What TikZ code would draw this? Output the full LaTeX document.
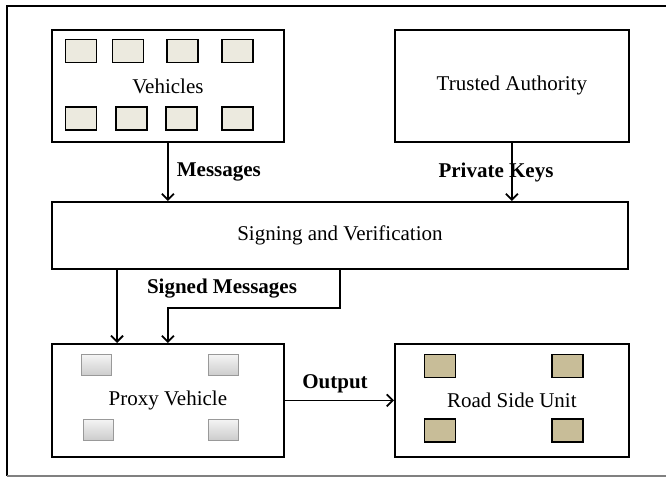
\documentclass[tikz,border=0pt]{standalone}
\usepackage{fontspec}
\setmainfont{Liberation Serif}
\usetikzlibrary{arrows.meta}
\definecolor{vehfill}{RGB}{236,234,223}
\definecolor{rsufill}{RGB}{200,189,152}

\begin{document}
\begin{tikzpicture}[-{Straight Barb[length=6pt,width=12pt]},x=1pt,y=-1pt,line width=1.8pt]

			\tikzstyle{every node}=[font=\fontsize{21}{25}\selectfont]
			\tikzstyle{box}=[draw,rectangle,anchor=north west,inner sep=0pt]
			\tikzstyle{vcell}=[draw,fill=vehfill,minimum width=31pt,minimum height=23pt]
			\tikzstyle{pcell}=[draw=gray!80,top color=gray!8,bottom color=gray!40,line width=1pt,minimum width=30pt,minimum height=21pt]
			\tikzstyle{rcell}=[draw,fill=rsufill,minimum width=31pt,minimum height=23pt]
			\tikzstyle{lbl}=[font=\bfseries\fontsize{21}{25}\selectfont,inner sep=1pt]

			\useasboundingbox (0,0) rectangle (666,478);

			% frame
			\draw[-] (666,6) -- (7,6) -- (7,476);
			\draw[-,gray,line width=1.2pt] (7,476) -- (666,476);

			% boxes
			\node[box,minimum width=232pt,minimum height=112pt] (veh) at (51,29) {Vehicles};
			\node[box,minimum width=234pt,minimum height=112pt] (ta) at (394,29) {Trusted Authority};
			\node[box,minimum width=576pt,minimum height=67pt] (sign) at (51,201) {Signing and Verification};
			\node[box,minimum width=232pt,minimum height=113pt] (proxy) at (51,343) {Proxy Vehicle};
			\node[box,minimum width=234pt,minimum height=113pt] (rsu) at (394,343) {Road Side Unit};

			% vehicles
			\node[vcell] (v1) at (81,51) {};
			\node[vcell] (v2) at (128,51) {};
			\node[vcell] (v3) at (182.5,51) {};
			\node[vcell] (v4) at (237.5,51) {};
			\node[vcell] (v5) at (81,118.5) {};
			\node[vcell] (v6) at (131.5,118.5) {};
			\node[vcell] (v7) at (181.5,118.5) {};
			\node[vcell] (v8) at (237.5,118.5) {};

			% proxy vehicle
			\node[pcell] (p1) at (96,365) {};
			\node[pcell] (p2) at (223,365) {};
			\node[pcell] (p3) at (98,429.5) {};
			\node[pcell] (p4) at (223,429.5) {};

			% road side unit
			\node[rcell] (r1) at (440,366) {};
			\node[rcell] (r2) at (567.5,366) {};
			\node[rcell] (r3) at (440,430.5) {};
			\node[rcell] (r4) at (567.5,430.5) {};

			% connectors
			\draw (veh.south) -- (veh.south |- sign.north);
			\node[lbl,anchor=west] (msglbl) at (175,172) {Messages};
			\draw (ta.south) -- (ta.south |- sign.north);
			\node[lbl] (keylbl) at (496,172) {Private Keys};

			\draw ([xshift=66pt]sign.south west) -- ([xshift=66pt]proxy.north west);
			\draw ([xshift=289pt]sign.south west) -- ++(0,38) -| (proxy.north);
			\node[lbl] (signlbl) at (222,289) {Signed Messages};

			\draw (proxy.east) -- (rsu.west);
			\node[lbl] (outlbl) at (335,384) {Output};
\end{tikzpicture}
\end{document}
